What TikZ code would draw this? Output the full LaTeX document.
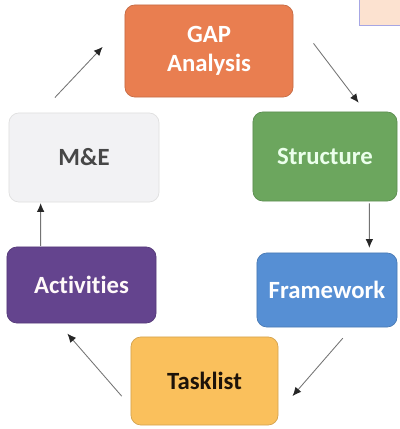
\documentclass[tikz,border=0pt]{standalone}
\usepackage{fontspec}
\setmainfont{Carlito}[Ligatures=NoCommon]
\usetikzlibrary{arrows.meta}
\definecolor{gaporange}{RGB}{233,126,80}
\definecolor{structgreen}{RGB}{108,166,94}
\definecolor{frameblue}{RGB}{86,143,212}
\definecolor{taskyellow}{RGB}{250,192,92}
\definecolor{actpurple}{RGB}{100,68,142}
\definecolor{mepale}{RGB}{242,242,244}
\definecolor{notepeach}{RGB}{252,226,208}
\tikzset{
  cbox/.style={rounded corners=7pt,line width=0.5pt,align=center,inner sep=4pt,font=\fontsize{17.6}{21}\selectfont\bfseries},
  orangec/.style={cbox,fill=gaporange,draw=gaporange!85!black,text=white,minimum width=4.2cm,minimum height=2.3cm},
  greenc/.style={cbox,fill=structgreen,draw=structgreen!85!black,text=white!92!green,minimum width=3.6cm,minimum height=2.225cm},
  bluec/.style={cbox,fill=frameblue,draw=frameblue!85!black,text=white,minimum width=3.5cm,minimum height=1.85cm},
  yellowc/.style={cbox,fill=taskyellow,draw=taskyellow!85!black,text=black!85!brown,minimum width=3.675cm,minimum height=2.2cm},
  purplec/.style={cbox,fill=actpurple,draw=actpurple!85!black,text=white!90!pink,minimum width=3.725cm,minimum height=1.9cm},
  greyc/.style={cbox,fill=mepale,draw=black!12,text=black!72,minimum width=3.75cm,minimum height=2.225cm},
  flow/.style={-{Latex[length=2.2mm,width=1.9mm,color=black!85]},line width=0.6pt,draw=black!55}
}
\begin{document}
\begin{tikzpicture}[x=0.025cm,y=0.025cm]
  \useasboundingbox (0,0) rectangle (400,429);
  \fill[white] (0,0) rectangle (400,429);
  \filldraw[fill=notepeach,draw=black!30!blue!35,line width=0.6pt] (359,404) rectangle (402,432);
  \node[orangec] (gap) at (209,378) {GAP\\Analysis};
  \node[greenc] (struct) at (325,272.5) {Structure};
  \node[bluec] (frame) at (327,139) {Framework};
  \node[yellowc] (task) at (204.5,48) {Tasklist};
  \node[purplec] (act) at (81.5,144) {Activities};
  \node[greyc] (me) at (84,271.5) {M\&E};
  \draw[flow,shorten <=0.52cm,shorten >=0.8cm] (me.134) -- (gap.162);
  \draw[flow,shorten <=0.83cm,shorten >=0.28cm] (gap.22.4) -- (struct.48.2);
  \draw[flow,shorten <=0.05cm,shorten >=0.12cm] ([xshift=-0.7cm]struct.south east) -- ([xshift=-0.7cm]frame.north east);
  \draw[flow,shorten <=0.36cm,shorten >=0.54cm] (frame.-56.7) -- (task.-23.9);
  \draw[flow,shorten <=0.34cm,shorten >=0.34cm] (task.-161.8) -- (act.-121.6);
  \draw[flow,shorten <=0.02cm,shorten >=0.02cm] ([xshift=0.85cm]act.north west) -- ([xshift=0.8cm]me.south west);
\end{tikzpicture}
\end{document}
